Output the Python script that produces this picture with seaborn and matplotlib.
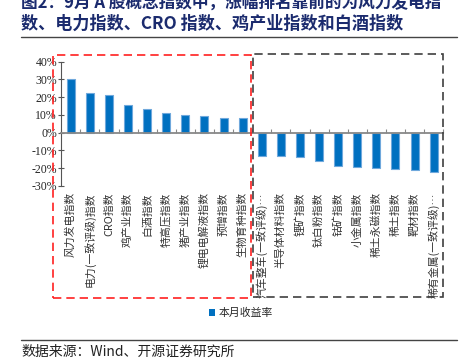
import numpy as np
import pandas as pd
import matplotlib
matplotlib.use('Agg')
import matplotlib.pyplot as plt
from matplotlib.patches import Rectangle, Patch
from matplotlib.lines import Line2D
import seaborn as sns

# 9月 A股概念指数涨跌幅
names = ['风力发电指数', '电力(一致评级)指数', 'CRO指数', '鸡产业指数', '白酒指数',
         '特高压指数', '猪产业指数', '锂电电解液指数', '预增指数', '生物育种指数',
         '汽车整车(一致评级)…', '半导体材料指数', '锂矿指数', '钛白粉指数', '钴矿指数',
         '小金属指数', '稀土永磁指数', '稀土指数', '靶材指数', '稀有金属(一致评级)…']
returns = [30.2, 22.5, 21.3, 15.7, 13.1, 10.9, 9.8, 9.4, 8.3, 8.3,
           -12.9, -13.1, -13.7, -15.9, -18.7, -19.5, -19.9, -20.2, -21.2, -22.1]
yticks = [-30, -20, -10, 0, 10, 20, 30, 40]

df = pd.DataFrame({'name': names, 'ret': returns})

sns.set_style('ticks')
plt.rcParams['font.family'] = ['Noto Sans CJK SC', 'DejaVu Sans']

W, H = 468, 358
fig = plt.figure(figsize=(W / 100, H / 100), dpi=100)
ax = fig.add_axes([61.2 / W, (H - 186) / H, (443.2 - 61.2) / W, (186 - 61.7) / H])

sns.barplot(data=df, x='name', y='ret', color='#0070C0', saturation=1,
            edgecolor='#6FA8DC', linewidth=0.8, width=0.42, ax=ax)

ax.set_ylim(-30, 40)
ax.set_xlim(-0.5, len(names) - 0.5)
ax.set_yticks(yticks)
ax.set_yticklabels([f'{v}%' for v in yticks], family='Liberation Serif', fontsize=8.5)
ax.set_xticks(np.arange(-0.5, len(names), 1))
ax.set_xticklabels([])
ax.set_xlabel('')
ax.set_ylabel('')
ax.tick_params(axis='y', direction='inout', length=4, width=0.8, color='#555555', pad=1)
ax.tick_params(axis='x', direction='in', length=3, width=0.8, color='#888888')
ax.spines['bottom'].set_position(('data', 0))
ax.spines['bottom'].set_color('#888888')
ax.spines['bottom'].set_linewidth(1.3)
ax.spines['left'].set_color('#555555')
ax.spines['left'].set_linewidth(0.8)
ax.spines['top'].set_visible(False)
ax.spines['right'].set_visible(False)

# vertical category labels below the plot
for i, n in enumerate(names):
    ax.text(i, -0.05, n, transform=ax.get_xaxis_transform(), rotation=90,
            ha='center', va='top', fontsize=7.8, color='#333333')

# legend
ax.legend(handles=[Patch(facecolor='#0070C0', edgecolor='none', label='本月收益率')],
          loc='center', bbox_to_anchor=(241 / W, 1 - 313 / H), bbox_transform=fig.transFigure,
          frameon=False, fontsize=7.8, handlelength=0.6, handleheight=0.6, handletextpad=0.3)

# dashed highlight boxes
fig.patches.append(Rectangle((53 / W, 1 - 298 / H), (251 - 53) / W, (298 - 55) / H,
                             transform=fig.transFigure, fill=False, edgecolor='#FF2020',
                             linestyle=(0, (5, 3)), linewidth=1.2))
fig.patches.append(Rectangle((253.5 / W, 1 - 297 / H), (443 - 253.5) / W, (297 - 54) / H,
                             transform=fig.transFigure, fill=False, edgecolor='#404040',
                             linestyle=(0, (5, 3)), linewidth=1.2))

# title, rules and source
navy = '#1B2B6E'
fig.text(21 / W, 1 - 4 / H, '图2：9月 A 股概念指数中，涨幅排名靠前的为风力发电指',
         fontsize=12, fontweight='bold', color=navy, ha='left', va='center')
fig.text(21 / W, 1 - 24 / H, '数、电力指数、CRO 指数、鸡产业指数和白酒指数',
         fontsize=12.3, fontweight='bold', color=navy, ha='left', va='center')
fig.add_artist(Line2D([21 / W, 457 / W], [1 - 37 / H, 1 - 37 / H], color='#444444', linewidth=1))
fig.add_artist(Line2D([21 / W, 457 / W], [1 - 340 / H, 1 - 340 / H], color='#444444', linewidth=1))
fig.text(21 / W, 1 - 352 / H, '数据来源：Wind、开源证券研究所', fontsize=10,
         color='#222222', ha='left', va='center')

fig.savefig('out.png', dpi=100)
